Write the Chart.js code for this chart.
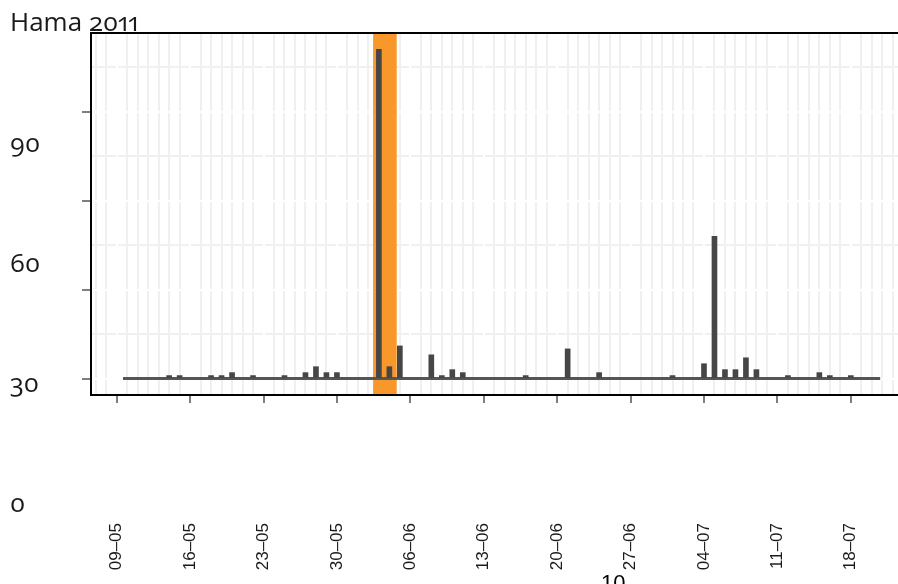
<!DOCTYPE html>
<html>
<head>
<meta charset="utf-8">
<script src="https://cdn.jsdelivr.net/npm/chart.js@4.4.1/dist/chart.umd.min.js"></script>
<style>
  html, body { margin: 0; padding: 0; background: #fff; }
  #wrap { position: relative; width: 898px; height: 584px; overflow: hidden; }
  #title, .ylab {
    position: absolute; font-family: "Open Sans", sans-serif; font-size: 26px; line-height: 1;
    color: #1a1a1a; white-space: nowrap;
    font-variant-numeric: oldstyle-nums proportional-nums;
  }
  #xtitle { position: absolute; left: 601px; top: 572px; font-family: "Liberation Sans", Arial, sans-serif; font-size: 22px; line-height: 1; color: #000; }
</style>
</head>
<body>
<div id="wrap">
  <canvas id="hamaChart" width="898" height="584"></canvas>
  <div id="title" style="left:10px; top:8px;">Hama 2011</div>
  <div id="xtitle">10</div>
</div>
<script>
// day 0 of the x axis
const startDate = '2011-05-09';

// daily counts (days with no count are left out)
const eventDates = [
  '2011-05-14', '2011-05-15', '2011-05-18', '2011-05-19', '2011-05-20', '2011-05-22',
  '2011-05-25', '2011-05-27', '2011-05-28', '2011-05-29', '2011-05-30',
  '2011-06-03', '2011-06-04', '2011-06-05', '2011-06-08', '2011-06-09', '2011-06-10', '2011-06-11',
  '2011-06-17', '2011-06-21', '2011-06-24', '2011-07-01',
  '2011-07-04', '2011-07-05', '2011-07-06', '2011-07-07', '2011-07-08', '2011-07-09',
  '2011-07-12', '2011-07-15', '2011-07-16', '2011-07-18'
];
const eventCounts = [
  1, 1, 1, 1, 2, 1,
  1, 2, 4, 2, 2,
  111, 4, 11, 8, 1, 3, 2,
  1, 10, 2, 1,
  5, 48, 3, 3, 7, 3,
  1, 2, 1, 1
];

const weekLabels = ['09–05', '16–05', '23–05', '30–05', '06–06', '13–06', '20–06', '27–06', '04–07', '11–07', '18–07'];
const yTicks = [0, 30, 60, 90];
const yMinorTicks = [15, 45, 75, 105];
const yLabels = ['90', '60', '30', '0'];

// highlighted period and observed period, in days from startDate
const highlightDays = [24.45, 26.7];
const coverageDays = [0.6, 72.8];

const dayOf = (d) => (Date.parse(d) - Date.parse(startDate)) / 86400000;

// y labels as text next to the chart
const wrap = document.getElementById('wrap');
yLabels.forEach((t, i) => {
  const el = document.createElement('div');
  el.className = 'ylab';
  el.textContent = t;
  el.style.left = '10px';
  el.style.top = (129 + 120 * i) + 'px';
  wrap.appendChild(el);
});

const highlightBand = {
  id: 'highlightBand',
  beforeDatasetsDraw(chart) {
    const { ctx, chartArea, scales } = chart;
    const x0 = scales.x.getPixelForValue(highlightDays[0]);
    const x1 = scales.x.getPixelForValue(highlightDays[1]);
    ctx.save();
    ctx.fillStyle = '#f8982a';
    ctx.fillRect(x0, chartArea.top, x1 - x0, chartArea.bottom - chartArea.top);
    ctx.restore();
  }
};

const ctx = document.getElementById('hamaChart').getContext('2d');
new Chart(ctx, {
  data: {
    datasets: [
      {
        type: 'line',
        data: coverageDays.map(d => ({ x: d, y: 0 })),
        borderColor: '#555555',
        borderWidth: 3,
        pointRadius: 0,
        order: 1,
      },
      {
        type: 'bar',
        data: eventDates.map((d, i) => ({ x: dayOf(d), y: eventCounts[i] })),
        backgroundColor: '#464646',
        barThickness: 5,
        grouped: false,
        order: 0,
      },
    ],
  },
  options: {
    responsive: false,
    animation: false,
    layout: { padding: { top: 33, left: 0, right: 0, bottom: 0 } },
    plugins: { legend: { display: false }, tooltip: { enabled: false } },
    scales: {
      x: {
        type: 'linear',
        position: 'bottom',
        offset: false,
        min: -2.45,
        max: 74.5,
        afterBuildTicks: (s) => { s.ticks = weekLabels.map((_, i) => ({ value: i * 7 })); },
        afterFit: (s) => { s.height = 189; s.paddingLeft = 0; s.paddingRight = 0; },
        grid: { offset: false, color: '#ffffff', lineWidth: 2, tickColor: '#7f7f7f', tickWidth: 2, tickLength: 8, z: -1 },
        border: { display: true, color: '#000000', width: 2, z: 1 },
        ticks: {
          autoSkip: false, minRotation: 90, maxRotation: 90, padding: 120,
          color: '#1a1a1a', font: { family: 'Liberation Sans', size: 17 },
          callback: (v) => weekLabels[Math.round(v / 7)],
        },
      },
      xMinor: {
        type: 'linear',
        position: 'top',
        offset: false,
        min: -2.45,
        max: 74.5,
        afterBuildTicks: (s) => {
          const t = [];
          for (let d = -2; d <= 74; d++) t.push({ value: d });
          s.ticks = t;
        },
        afterFit: (s) => { s.height = 0; s.paddingLeft = 0; s.paddingRight = 0; },
        grid: { offset: false, color: '#f0f0f0', lineWidth: 2, drawTicks: false, z: -2 },
        border: { display: true, color: '#000000', width: 2, z: 1 },
        ticks: { display: false },
      },
      y: {
        type: 'linear',
        position: 'left',
        min: -5.55,
        max: 116.55,
        afterBuildTicks: (s) => { s.ticks = yTicks.map(v => ({ value: v })); },
        afterFit: (s) => { s.width = 91; },
        grid: { color: '#ffffff', lineWidth: 2, tickColor: '#7f7f7f', tickWidth: 2, tickLength: 9, z: -1 },
        border: { display: true, color: '#000000', width: 2, z: 1 },
        ticks: { display: false },
      },
      yMinor: {
        type: 'linear',
        position: 'right',
        min: -5.55,
        max: 116.55,
        afterBuildTicks: (s) => { s.ticks = yMinorTicks.map(v => ({ value: v })); },
        afterFit: (s) => { s.width = 0; },
        grid: { color: '#f0f0f0', lineWidth: 2, drawTicks: false, z: -2 },
        border: { display: false },
        ticks: { display: false },
      },
    },
  },
  plugins: [highlightBand],
});
</script>
</body>
</html>
